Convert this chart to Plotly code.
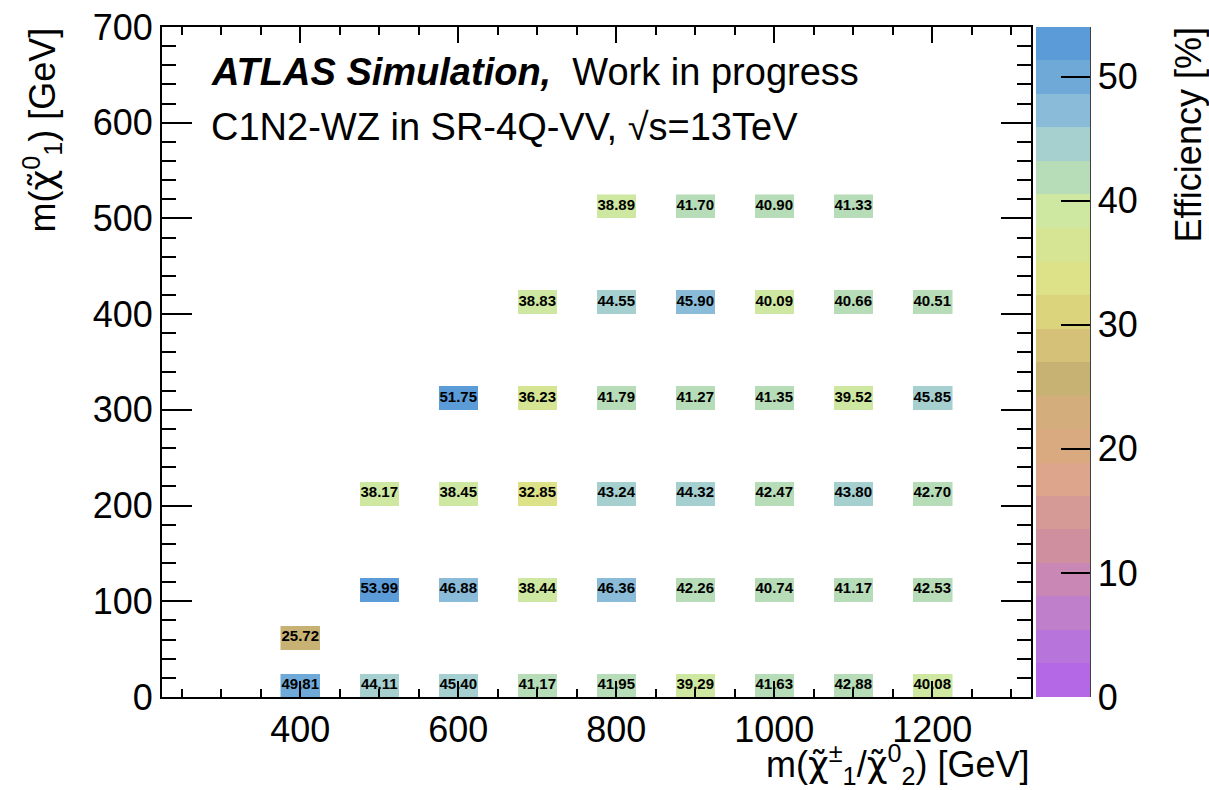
import plotly.graph_objects as go
import numpy as np

# ---- data ----
m_c1n2 = [400, 500, 600, 700, 800, 900, 1000, 1100, 1200,
          400,
          500, 600, 700, 800, 900, 1000, 1100, 1200,
          500, 600, 700, 800, 900, 1000, 1100, 1200,
          600, 700, 800, 900, 1000, 1100, 1200,
          700, 800, 900, 1000, 1100, 1200,
          800, 900, 1000, 1100]
m_n1 = [0, 0, 0, 0, 0, 0, 0, 0, 0,
        50,
        100, 100, 100, 100, 100, 100, 100, 100,
        200, 200, 200, 200, 200, 200, 200, 200,
        300, 300, 300, 300, 300, 300, 300,
        400, 400, 400, 400, 400, 400,
        500, 500, 500, 500]
efficiency = [49.81, 44.11, 45.40, 41.17, 41.95, 39.29, 41.63, 42.88, 40.08,
              25.72,
              53.99, 46.88, 38.44, 46.36, 42.26, 40.74, 41.17, 42.53,
              38.17, 38.45, 32.85, 43.24, 44.32, 42.47, 43.80, 42.70,
              51.75, 36.23, 41.79, 41.27, 41.35, 39.52, 45.85,
              38.83, 44.55, 45.90, 40.09, 40.66, 40.51,
              38.89, 41.70, 40.90, 41.33]

x_ticks = [400, 600, 800, 1000, 1200]
y_ticks = [0, 100, 200, 300, 400, 500, 600, 700]
z_ticks = [0, 10, 20, 30, 40, 50]

palette = ["#b468e6", "#b774da", "#bf7fca", "#c987b5", "#d08f9f",
           "#d69a96", "#dca58c", "#d9aa80", "#d3ae7c", "#c8b273",
           "#d5c278", "#dcd47c", "#dde187", "#d6e594", "#cfe8a1",
           "#b7dcb8", "#a6cfd0", "#8abcd9", "#6fa9d7", "#5b9bd8"]

# ---- binning (ROOT-like 2D histogram) ----
bw_x, bw_y = 50, 25
x_edges = np.arange(375, 1225 + 1, bw_x)
y_edges = np.arange(0, 525 + 1, bw_y)
z = [[None] * (len(x_edges) - 1) for _ in range(len(y_edges) - 1)]
for mx, my, v in zip(m_c1n2, m_n1, efficiency):
    ix = int((mx - x_edges[0]) // bw_x)
    iy = int((my - y_edges[0]) // bw_y)
    z[iy][ix] = v

zmin, zmax = 0, max(efficiency)
n = len(palette)
colorscale = []
for i, c in enumerate(palette):
    colorscale.append([i / n, c])
    colorscale.append([(i + 1) / n, c])

FONT = "Liberation Sans, Arial, Helvetica, sans-serif"
CHI = '<span style="font-family:DejaVu Sans">χ̃</span>'

L, R, T, B = 162, 178, 27, 93
W, H = 1209, 790
pw, ph = W - L - R, H - T - B


def px(xp):
    return (xp - L) / pw


def py(yp):
    return (H - B - yp) / ph


fig = go.Figure()
fig.add_trace(go.Heatmap(
    x=x_edges, y=y_edges, z=z,
    zmin=zmin, zmax=zmax, colorscale=colorscale,
    hoverongaps=False, showscale=True,
    colorbar=dict(
        x=px(1036), xanchor="left", xpad=0,
        y=0.5, yanchor="middle", len=1, lenmode="fraction", ypad=0,
        thickness=54, thicknessmode="pixels",
        outlinewidth=0,
        tickmode="array", tickvals=z_ticks,
        ticks="inside", ticklen=29, tickwidth=1.5, tickcolor="black",
        tickfont=dict(family=FONT, size=36, color="black"),
    ),
))

fig.add_trace(go.Scatter(
    x=m_c1n2, y=[v + bw_y / 2 for v in m_n1],
    mode="text", text=[f"{v:.2f}" for v in efficiency],
    textposition="middle center",
    textfont=dict(family=FONT, size=15, color="black", weight="bold"),
    hoverinfo="skip", showlegend=False,
))

axis_common = dict(
    showline=True, linecolor="black", linewidth=2, mirror="ticks",
    ticks="inside", tickcolor="black", tickwidth=1.5,
    showgrid=False, zeroline=False,
    tickfont=dict(family=FONT, size=36, color="black"),
)
fig.update_xaxes(range=[225, 1325], tickmode="array", tickvals=x_ticks,
                 ticklen=16,
                 minor=dict(dtick=50, tick0=0, ticklen=8, tickwidth=1.5,
                            tickcolor="black", ticks="inside", showgrid=False),
                 **axis_common)
fig.update_yaxes(range=[0, 700], tickmode="array", tickvals=y_ticks,
                 ticklen=30,
                 minor=dict(dtick=20, tick0=0, ticklen=14, tickwidth=1.5,
                            tickcolor="black", ticks="inside", showgrid=False),
                 **axis_common)

annotations = [
    dict(text="<b><i>ATLAS Simulation,</i></b>\u00a0 Work in progress",
         x=px(210), y=py(72), xanchor="left", yanchor="middle",
         font=dict(family=FONT, size=38, color="black")),
    dict(text="C1N2-WZ in SR-4Q-VV, √s=13TeV",
         x=px(210), y=py(127), xanchor="left", yanchor="middle",
         font=dict(family=FONT, size=38, color="black")),
    dict(text=f"m({CHI}<sup>±</sup><sub>1</sub>/{CHI}<sup>0</sup><sub>2</sub>) [GeV]",
         x=1, y=py(764), xanchor="right", yanchor="middle",
         font=dict(family=FONT, size=36, color="black")),
    dict(text=f"m({CHI}<sup>0</sup><sub>1</sub>) [GeV]", textangle=-90,
         x=px(42), y=1, xanchor="center", yanchor="top",
         font=dict(family=FONT, size=36, color="black")),
    dict(text="Efficiency [%]", textangle=-90,
         x=px(1188), y=1, xanchor="center", yanchor="top",
         font=dict(family=FONT, size=36, color="black")),
]
for a in annotations:
    a.update(xref="paper", yref="paper", showarrow=False, borderpad=0)

fig.update_layout(
    width=W, height=H,
    margin=dict(l=L, r=R, t=T, b=B, autoexpand=False),
    paper_bgcolor="white", plot_bgcolor="white",
    annotations=annotations,
    shapes=[dict(type="line", xref="paper", yref="paper",
                 x0=px(1090), x1=px(1090), y0=0, y1=1,
                 line=dict(color="black", width=1.5))],
    showlegend=False,
)

fig.write_html("out.html")
